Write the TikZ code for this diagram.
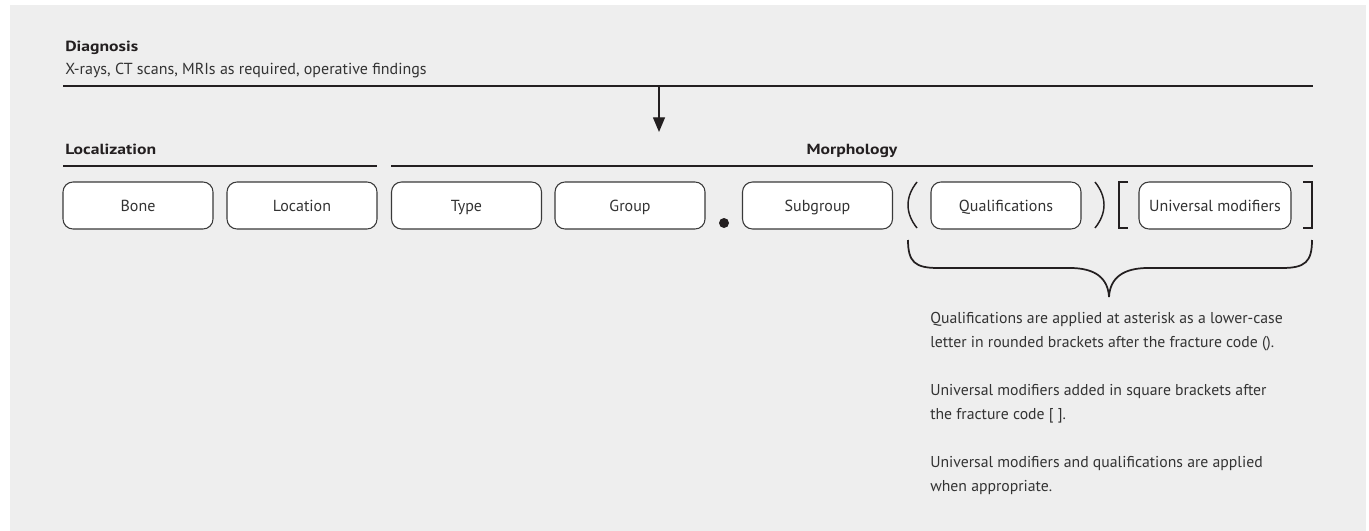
\documentclass[tikz,border=0pt]{standalone}
\usepackage{fontspec}
\setmainfont{PT Sans}
\newfontfamily\hdfont{PT Sans}[FakeStretch=1.2]
\usetikzlibrary{arrows.meta}
\definecolor{panel}{HTML}{EEEEEE}
\definecolor{ink}{HTML}{231F20}
\definecolor{boxline}{HTML}{3A3A3A}
\definecolor{txt}{HTML}{333333}
\begin{document}
\begin{tikzpicture}[x=0.75pt,y=-0.75pt,
  codebox/.style={draw=boxline,fill=white,line width=0.8pt,rounded corners=7.5pt,
    minimum width=112.5pt,minimum height=35.25pt,inner sep=1pt,
    text height=9pt,text depth=0pt,
    font=\fontsize{12}{14}\selectfont,text=txt},
  header/.style={font=\hdfont\fontsize{11}{13}\bfseries\selectfont,text=ink,inner sep=0pt},
  sub/.style={font=\fontsize{12}{14}\selectfont,text=txt,inner sep=0pt},
  rule/.style={draw=ink,line width=0.9pt},
  brk/.style={draw=ink,line width=1.1pt}]
\useasboundingbox (0,0) rectangle (1369,531);
\fill[panel] (10,5) rectangle (1366,531);
% headings
\node[header,anchor=base west] (diag) at (65,52) {Diagnosis};
\node[sub,anchor=base west] (diagsub) at (65,75) {X-rays, CT scans, MRIs as required, operative findings};
\draw[draw=ink,line width=1.5pt] (63,86) -- (1313,86);
\coordinate (arrtop) at (659,86);
\coordinate (arrend) at (659,132);
\draw[draw=ink,line width=1pt,-{Triangle[width=9pt,length=11pt]}] (arrtop) -- (arrend);
\node[header,anchor=base west] (loc) at (65,155) {Localization};
\node[header,anchor=base] (morph) at (852,155) {Morphology};
\draw[rule] (63,166) -- (377,166);
\draw[rule] (391,166) -- (1313,166);
% boxes
\node[codebox] (bone) at (138,205.5) {Bone};
\node[codebox] (location) at (302,205.5) {Location};
\node[codebox] (type) at (466.5,205.5) {Type};
\node[codebox] (group) at (630,205.5) {Group};
\fill[ink] (724,223) circle (5);
\node[codebox] (subgroup) at (817.5,205.5) {Subgroup};
\node[codebox] (qual) at (1006,205.5) {Qualifications};
\node[codebox,minimum width=114pt] (univ) at (1215,205.5) {Universal modifiers};
% brackets
\draw[brk] (917,182) .. controls (905,197) and (905,213) .. (917,228);
\draw[brk] (1095,182) .. controls (1107,197) and (1107,213) .. (1095,228);
\draw[brk] (1128,182) -- (1119,182) -- (1119,228) -- (1128,228);
\draw[brk] (1303,182) -- (1312,182) -- (1312,228) -- (1303,228);
% brace
\draw[draw=ink,line width=1.3pt]
  (908,240) .. controls (908,262) and (915,268) .. (938,268)
  -- (1070,268) .. controls (1095,268) and (1108,278) .. (1109,297)
  .. controls (1110,278) and (1123,268) .. (1148,268)
  -- (1282,268) .. controls (1305,268) and (1312,262) .. (1312,240);
% explanation
\node[sub,anchor=base west] (expl) at (930,323)
{\parbox[t]{330pt}{\fontsize{11.8}{18}\selectfont\raggedright
Qualifications are applied at asterisk as a lower-case\\
letter in rounded brackets after the fracture code ().\\[18pt]
Universal modifiers added in square brackets after\\
the fracture code [ ].\\[18pt]
Universal modifiers and qualifications are applied\\
when appropriate.}};
\end{tikzpicture}
\end{document}
